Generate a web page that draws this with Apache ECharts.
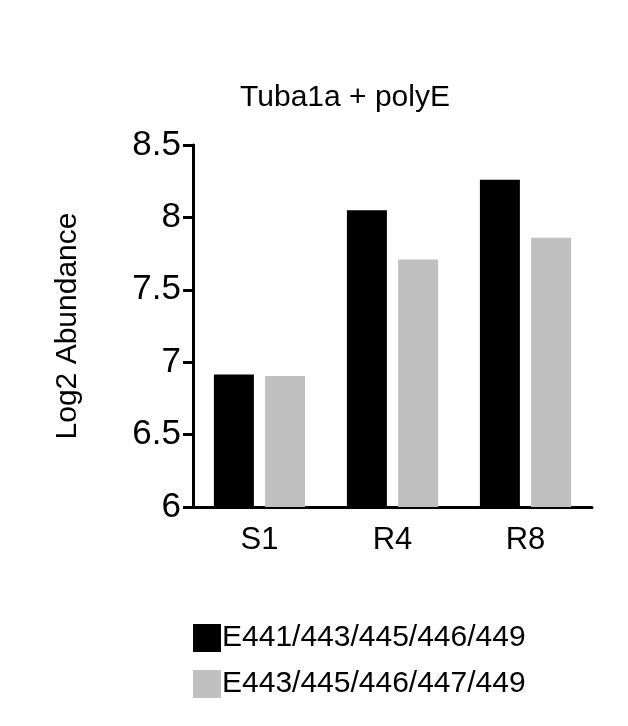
<!DOCTYPE html>
<html><head><meta charset="utf-8">
<script src="https://cdn.jsdelivr.net/npm/echarts@6/dist/echarts.min.js"></script>
<style>html,body{margin:0;padding:0;background:#fff}#c{width:628px;height:726px}</style>
</head><body><div id="c"></div>
<script>
const categories = ['S1', 'R4', 'R8'];
const seriesNames = ['E441/443/445/446/449', 'E443/445/446/447/449'];
const blackValues = [6.915, 8.05, 8.26];
const grayValues = [6.905, 7.71, 7.86];
const yTicks = [6, 6.5, 7, 7.5, 8, 8.5];

const chart = echarts.init(document.getElementById('c'));
const font = 'Liberation Sans, Arial, sans-serif';
chart.setOption({
  animation: false,
  title: { text: 'Tuba1a + polyE', left: 340, top: 78, textAlign: 'center',
    textStyle: { fontFamily: font, fontSize: 30, fontWeight: 'normal', color: '#000' } },
  legend: { orient: 'vertical', left: 188, top: 618, itemWidth: 28, itemHeight: 28, itemGap: 16,
    icon: 'rect', data: seriesNames,
    textStyle: { fontFamily: font, fontSize: 30, color: '#000', padding: [0,0,0,-4] } },
  grid: { left: 193, right: 36, top: 145, bottom: 219 },
  xAxis: { type: 'category', data: categories,
    axisLine: { lineStyle: { color: '#000', width: 3 } },
    axisTick: { show: false },
    axisLabel: { fontFamily: font, fontSize: 31, color: '#000', margin: 18 } },
  yAxis: { type: 'value', min: 6, max: 8.5, interval: 0.5,
    name: 'Log2 Abundance', nameLocation: 'middle', nameGap: 110,
    nameTextStyle: { fontFamily: font, fontSize: 30, color: '#000' },
    splitLine: { show: false },
    axisLine: { show: true, lineStyle: { color: '#000', width: 3 } },
    axisTick: { show: true, length: 10, lineStyle: { width: 3 } },
    axisLabel: { fontFamily: font, fontSize: 35, color: '#000', margin: 12,
      formatter: v => yTicks.includes(v) ? String(v) : '' } },
  series: [
    { name: seriesNames[0], type: 'bar', data: blackValues, barWidth: 40, barGap: '28%',
      itemStyle: { color: '#000' } },
    { name: seriesNames[1], type: 'bar', data: grayValues, barWidth: 40,
      itemStyle: { color: '#c0c0c0' } }
  ]
});
</script></body></html>
